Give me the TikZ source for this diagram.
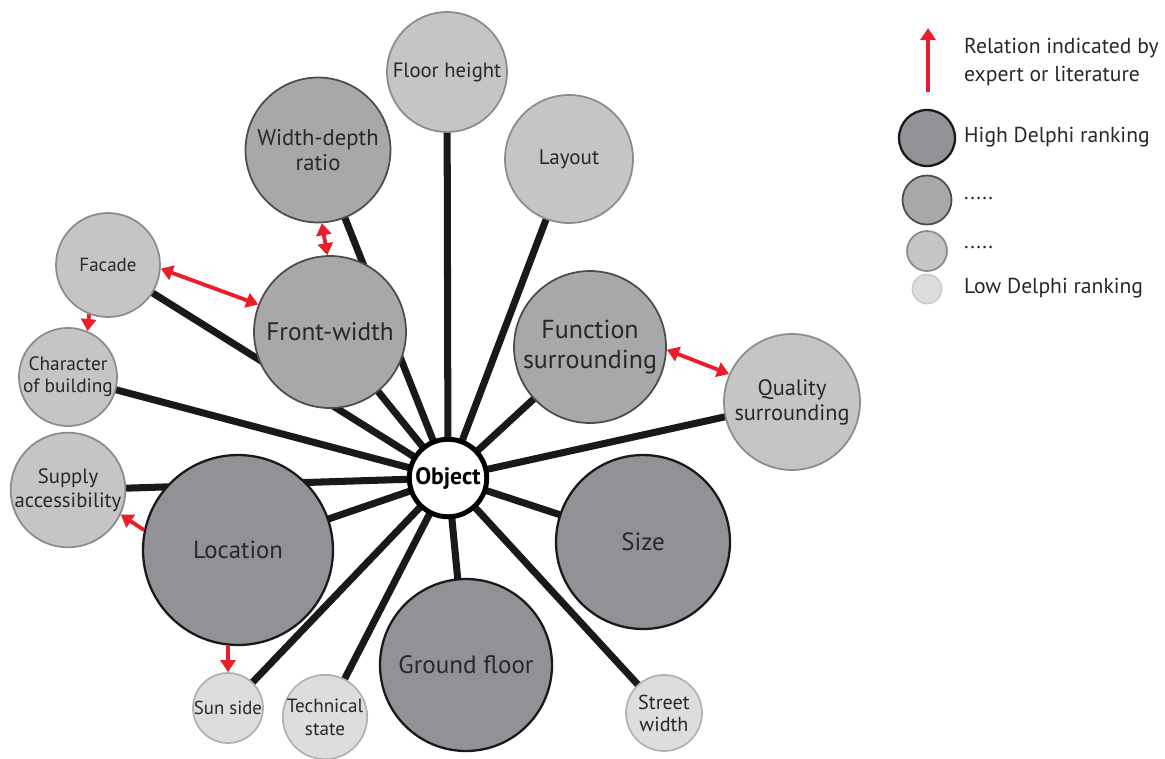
\documentclass[tikz,border=0pt]{standalone}
\usepackage{fontspec}
\setmainfont{PT Sans}
\usepackage{xcolor}
\usetikzlibrary{positioning, arrows.meta, backgrounds}

\definecolor{lvA}{RGB}{146,146,150}
\definecolor{lvB}{RGB}{168,168,171}
\definecolor{lvC}{RGB}{197,197,198}
\definecolor{lvD}{RGB}{221,221,221}
\definecolor{relred}{RGB}{232,30,42}
\definecolor{txt}{RGB}{40,40,42}

\begin{document}
\begin{tikzpicture}[
    x=0.02cm, y=-0.02cm,
    >={Triangle[length=2.4mm, width=3mm]},
    bubble/.style={circle, inner sep=0pt, align=center, text=txt, minimum size=#1},
    high/.style={bubble=#1, fill=lvA, draw=black!90, line width=1.3pt},
    mid/.style={bubble=#1, fill=lvB, draw=black!70, line width=1pt},
    low/.style={bubble=#1, fill=lvC, draw=black!45, line width=1pt},
    least/.style={bubble=#1, fill=lvD, draw=black!30, line width=1pt},
    spoke/.style={line width=4pt, black!90},
    rel/.style={line width=2.2pt, relred, ->},
    legtext/.style={anchor=west, text=txt, font=\fontsize{12.3}{16}\selectfont, align=left},
]
\useasboundingbox (0,0) rectangle (1165,758);

% centre
\node[circle, fill=white, draw=black, line width=2.8pt, minimum size=1.55cm, inner sep=0pt,
      font=\fontsize{13.5}{15}\selectfont\bfseries] (obj) at (448,478) {Object};

% factors
\node[low=2.4cm, font=\fontsize{11.8}{14}\selectfont] (floor) at (447,72) {Floor height};
\node[mid=2.9cm, font=\fontsize{12.9}{14.2}\selectfont] (wdr) at (318,150) {Width-depth\\ratio};
\node[low=2.56cm, font=\fontsize{12}{14}\selectfont] (layout) at (569,159) {Layout};
\node[low=2.08cm, font=\fontsize{10.8}{13}\selectfont] (facade) at (108,265) {Facade};
\node[mid=3.04cm, font=\fontsize{14.4}{17}\selectfont] (front) at (330,332) {Front-width};
\node[mid=3.04cm, font=\fontsize{14.8}{17}\selectfont] (funct) at (590,347) {Function\\surrounding};
\node[low=1.92cm, font=\fontsize{11}{12.5}\selectfont] (charac) at (68,377) {Character\\of building};
\node[low=2.72cm, font=\fontsize{12.7}{14.2}\selectfont] (quality) at (792,402) {Quality\\surrounding};
\node[low=2.24cm, font=\fontsize{11.8}{13.7}\selectfont] (supply) at (68,490) {Supply\\accessibility};
\node[high=3.8cm, font=\fontsize{14.1}{16}\selectfont] (loc) at (238,550) {Location};
\node[high=3.48cm, font=\fontsize{14.2}{16}\selectfont] (size) at (643,542) {Size};
\node[high=3.44cm, font=\fontsize{14.3}{16}\selectfont] (ground) at (466,665) {Ground floor};
\node[least=1.4cm, font=\fontsize{10.7}{12}\selectfont] (sun) at (228,708) {Sun side};
\node[least=1.68cm, font=\fontsize{10.9}{13}\selectfont] (tech) at (325,717) {Technical\\state};
\node[least=1.52cm, font=\fontsize{11.5}{12.5}\selectfont] (street) at (664,713) {Street\\width};

% spokes
\begin{scope}[on background layer]
\foreach \f in {floor, wdr, layout, facade, front, funct, charac, quality,
                supply, loc, size, ground, sun, tech, street}
    \draw[spoke] (obj.center) -- (\f.center);
\end{scope}

% relations
\draw[rel, <->] (wdr.-87) -- (front.92);
\draw[rel, <->] (facade.-4) -- (front.159);
\draw[rel] (facade.249) -- (charac.67);
\draw[rel] (loc.168) -- (supply.-25);
\draw[rel] (loc.-96) -- (sun.north);
\draw[rel, <->] (funct.-2) -- (quality.156);

% legend
\coordinate (arrbase) at (928,92);
\coordinate (arrtip) at (928,28);
\draw[rel] (arrbase) -- (arrtip);
\node[legtext] (relnote) at (958,62) {Relation indicated by\\expert or literature};
\node[high=1.12cm] (khigh) at (927,138) {};
\node[mid=0.98cm] (kmid) at (927,200) {};
\node[low=0.8cm] (klow) at (927,251) {};
\node[least=0.58cm, draw=black!20] (kleast) at (927,289) {};
\node[legtext] (thigh) at (958,137) {High Delphi ranking};
\node[legtext] (tmid) at (958,198) {.....};
\node[legtext] (tlow) at (958,247) {.....};
\node[legtext] (tleast) at (958,288) {Low Delphi ranking};

\end{tikzpicture}
\end{document}
